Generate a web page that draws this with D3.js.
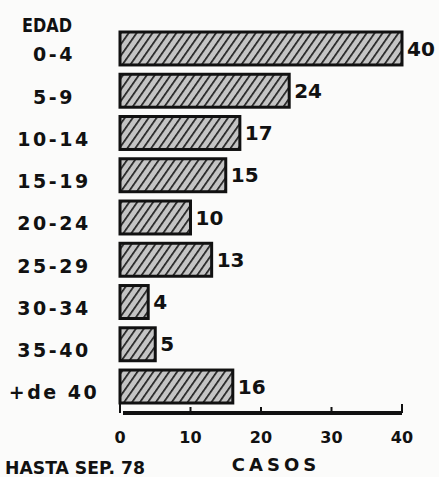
<!DOCTYPE html>
<html>
<head>
<meta charset="utf-8">
<script src="https://cdn.jsdelivr.net/npm/d3@7"></script>
<style>
  html, body { margin: 0; padding: 0; background: #fbfbfa; }
  svg { display: block; }
  text { font-family: "DejaVu Sans", sans-serif; font-weight: bold; fill: #111; }
</style>
</head>
<body>
<svg id="viz" width="439" height="477"></svg>
<script>
/* Data */

const ages = ['0-4', '5-9', '10-14', '15-19', '20-24', '25-29', '30-34', '35-40', '+de 40'];
const cases = [40, 24, 17, 15, 10, 13, 4, 5, 16];
const ticks = [0, 10, 20, 30, 40];

/* Visualization */

const svg = d3.select('#viz');

// hatch pattern
const defs = svg.append('defs');
const pattern = defs
  .append('pattern')
  .attr('id', 'hatch')
  .attr('patternUnits', 'userSpaceOnUse')
  .attr('width', 6.5)
  .attr('height', 6.5)
  .attr('patternTransform', 'rotate(35)');
pattern.append('rect').attr('width', 6.5).attr('height', 6.5).attr('fill', '#c4c4c4');
pattern.append('line').attr('x1', 0).attr('y1', 0).attr('x2', 0).attr('y2', 6.5)
  .attr('stroke', '#222').attr('stroke-width', 3.4);

// scales
const xScale = d3.scaleLinear().domain([0, 40]).range([120, 402]);
const yScale = d3.scaleBand().domain(ages).range([32, 403]).paddingInner(0.22).paddingOuter(0);

// bars
svg.append('g')
  .selectAll('rect')
  .data(cases)
  .join('rect')
  .attr('x', xScale(0))
  .attr('y', (_, i) => yScale(ages[i]))
  .attr('width', (d) => xScale(d) - xScale(0))
  .attr('height', yScale.bandwidth())
  .attr('fill', 'url(#hatch)')
  .attr('stroke', '#111')
  .attr('stroke-width', 3);

// value labels
svg.append('g')
  .selectAll('text')
  .data(cases)
  .join('text')
  .attr('x', (d) => xScale(d) + 5)
  .attr('y', (_, i) => yScale(ages[i]) + yScale.bandwidth() / 2)
  .attr('dy', '0.36em')
  .attr('font-size', 20)
  .text((d) => d);

// category labels
svg.append('g')
  .selectAll('text')
  .data(ages)
  .join('text')
  .attr('x', 54)
  .attr('y', (d) => yScale(d) + yScale.bandwidth() / 2 + 6)
  .attr('dy', '0.36em')
  .attr('text-anchor', 'middle')
  .attr('font-size', 19)
  .attr('letter-spacing', 2.5)
  .text((d) => d);

svg.append('text')
  .attr('x', 22)
  .attr('y', 32)
  .attr('font-size', 19)
  .attr('textLength', 50)
  .attr('lengthAdjust', 'spacingAndGlyphs')
  .text('EDAD');

// x axis
const xAxis = svg.append('g').attr('transform', 'translate(0,413)');
xAxis.append('line')
  .attr('x1', xScale(0) + 3).attr('x2', xScale(40))
  .attr('stroke', '#111').attr('stroke-width', 4);
xAxis.selectAll('line.tick')
  .data(ticks)
  .join('line')
  .attr('class', 'tick')
  .attr('x1', (d) => xScale(d)).attr('x2', (d) => xScale(d))
  .attr('y1', 0).attr('y2', (d) => (d === 0 || d === 40 ? -9 : -6))
  .attr('stroke', '#111').attr('stroke-width', 2);
xAxis.selectAll('text')
  .data(ticks)
  .join('text')
  .attr('x', (d) => xScale(d))
  .attr('y', 24)
  .attr('dy', '0.36em')
  .attr('text-anchor', 'middle')
  .attr('font-size', 16)
  .text((d) => d);

svg.append('text')
  .attr('x', 276)
  .attr('y', 471)
  .attr('text-anchor', 'middle')
  .attr('font-size', 18)
  .attr('font-weight', 'normal')
  .attr('letter-spacing', 4)
  .text('CASOS');

svg.append('text')
  .attr('x', 5)
  .attr('y', 474)
  .attr('font-size', 17)
  .attr('font-weight', 'normal')
  .attr('textLength', 140)
  .attr('lengthAdjust', 'spacingAndGlyphs')
  .text('HASTA SEP. 78');
</script>
</body>
</html>
